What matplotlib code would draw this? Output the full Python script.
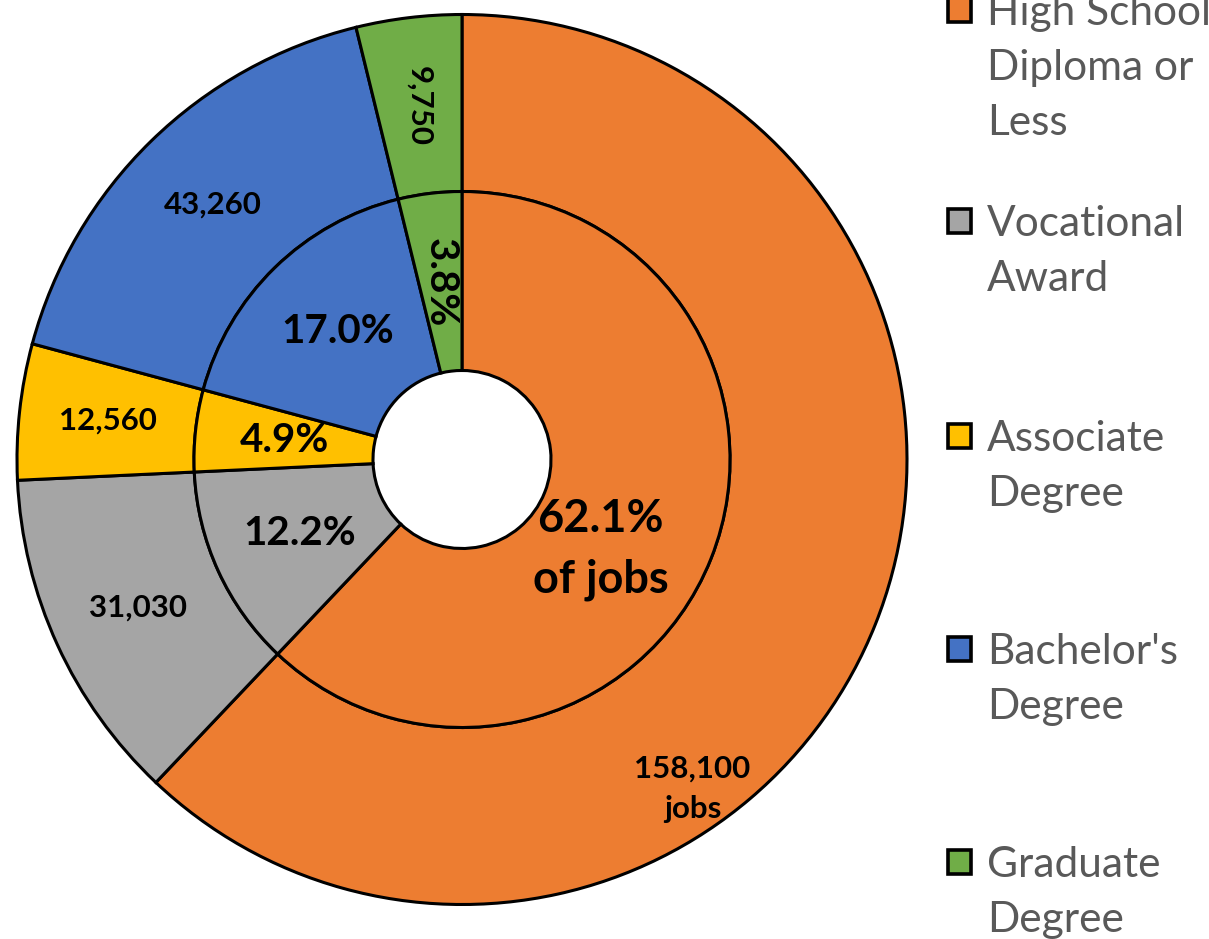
import matplotlib.pyplot as plt
from matplotlib.patches import Rectangle
import numpy as np

# Jobs by typical education level
categories = ["High School\nDiploma or\nLess", "Vocational\nAward", "Associate\nDegree",
              "Bachelor's\nDegree", "Graduate\nDegree"]
jobs = [158100, 31030, 12560, 43260, 9750]
job_labels = ["158,100\njobs", "31,030", "12,560", "43,260", "9,750"]
pct_labels = ["62.1%\nof jobs", "12.2%", "4.9%", "17.0%", "3.8%"]
colors = ["#ED7D31", "#A5A5A5", "#FFC000", "#4472C4", "#70AD47"]

plt.rcParams['font.family'] = ['Lato', 'DejaVu Sans']

W, H = 1209, 939
fig = plt.figure(figsize=(W / 100, H / 100), dpi=100)

# pie centre at (462, 459.5) px, outer radius 445 px
cx, cy, R = 462, 459.5, 445
ax = fig.add_axes([(cx - R) / W, (H - cy - R) / H, 2 * R / W, 2 * R / H])

r_mid = 268 / R
r_hole = 89 / R
edge = dict(edgecolor='black', linewidth=2.2)

ax.pie(jobs, colors=colors, radius=1.0, startangle=90, counterclock=False,
       wedgeprops=dict(width=1.0 - r_mid, **edge))
ax.pie(jobs, colors=colors, radius=r_mid, startangle=90, counterclock=False,
       wedgeprops=dict(width=r_mid - r_hole, **edge))
# pie() resets the limits, so set them afterwards
ax.set_xlim(-1, 1)
ax.set_ylim(-1, 1)
ax.set_aspect('equal')
ax.axis('off')

# label angles (centre of each slice), going clockwise from the top
total = sum(jobs)
cum = np.cumsum([0] + jobs)
mid_ang = [90 - 360 * (cum[i] + cum[i + 1]) / 2 / total for i in range(len(jobs))]

outer_r = (1.0 + r_mid) / 2
inner_r = (r_mid + r_hole) / 2
for i, ang in enumerate(mid_ang):
    a = np.deg2rad(ang)
    ro, ri = outer_r, inner_r
    rot = 0
    if i == 0:
        # the big orange slice has its labels moved down
        a_o, ro = np.deg2rad(-55), 402 / R
        a_i, ri = np.deg2rad(-33), 165 / R
    else:
        a_o = a_i = a
    if i == 4:
        rot = -90
    ax.text(ro * np.cos(a_o), ro * np.sin(a_o), job_labels[i], ha='center', va='center',
            fontsize=22.5, fontweight='bold', rotation=rot, linespacing=1.55)
    ax.text(ri * np.cos(a_i), ri * np.sin(a_i), pct_labels[i], ha='center', va='center',
            fontsize=32.5 if i == 0 else 29, fontweight='bold', rotation=rot, linespacing=1.55)

# legend on the right, drawn by hand (it runs off the top and bottom)
first_line = [10, 221, 436, 649, 862]
for i, lab in enumerate(categories):
    yc = 1 - first_line[i] / H
    fig.patches.append(Rectangle((948 / W, yc - 12 / H), 23 / W, 24 / H,
                                 transform=fig.transFigure, facecolor=colors[i],
                                 edgecolor='black', linewidth=2.6))
    fig.text(987 / W, yc + 16 / H, lab, ha='left', va='top', fontsize=30.5,
             color='#595959', linespacing=1.55,
             transform=fig.transFigure)

fig.savefig("out.png", dpi=100)
